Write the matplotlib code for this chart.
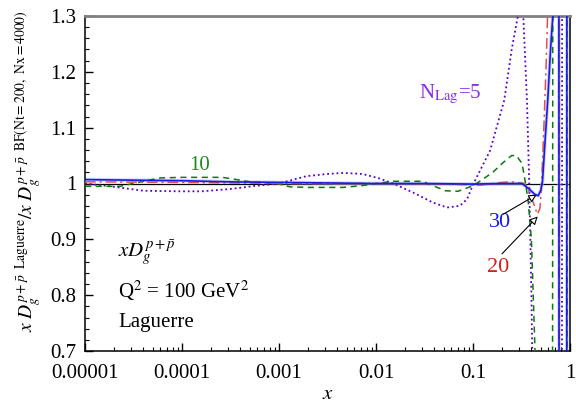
import numpy as np
import matplotlib
matplotlib.use("Agg")
import matplotlib.pyplot as plt
from matplotlib.ticker import FixedLocator, FixedFormatter, MultipleLocator, LogLocator, NullFormatter

plt.rcParams['font.family'] = ['Liberation Serif', 'DejaVu Serif']
plt.rcParams['mathtext.fontset'] = 'stix'

# ---- data ----
x_tick_vals = [1e-5, 1e-4, 1e-3, 1e-2, 1e-1, 1]
x_tick_labels = ["0.00001", "0.0001", "0.001", "0.01", "0.1", "1"]
y_tick_vals = [0.7, 0.8, 0.9, 1.0, 1.1, 1.2, 1.3]
y_tick_labels = ["0.7", "0.8", "0.9", "1", "1.1", "1.2", "1.3"]

# N_Lag = 5 (purple dotted)
x_n5 = [1e-5, 1.8e-5, 4e-5, 9.5e-5, 1.6e-4, 3.1e-4, 5.9e-4, 1e-3, 1.9e-3, 3.1e-3,
        4.6e-3, 7.3e-3, 1.09e-2, 1.5e-2, 2.4e-2, 3.85e-2, 5.4e-2, 7.3e-2, 0.087, 0.1,
        0.15, 0.21, 0.25, 0.29, 0.31, 0.33, 0.36, 0.38, 0.39, 0.40, 0.41, 0.42,
        0.826, 0.83]
y_n5 = [1.000, 0.995, 0.987, 0.986, 0.986, 0.990, 0.996, 1.000, 1.013, 1.017,
        1.019, 1.017, 1.009, 1.000, 0.984, 0.966, 0.957, 0.960, 0.972, 0.998,
        1.059, 1.149, 1.239, 1.30, 1.32, 1.30, 1.149, 1.00, 0.90, 0.80, 0.68, 0.50,
        0.50, 1.45]

# N_Lag = 10 (green dashed)
x_n10 = [1e-5, 2.3e-5, 4e-5, 6e-5, 1e-4, 2.6e-4, 4e-4, 5e-4, 9.5e-4, 1.3e-3,
         2e-3, 4.6e-3, 7e-3, 1.01e-2, 1.5e-2, 3e-2, 4e-2, 5.2e-2, 7e-2, 0.1,
         0.12, 0.16, 0.2, 0.25, 0.28, 0.32, 0.34, 0.37, 0.40, 0.436, 0.45,
         0.66, 0.665, 0.928, 0.932]
y_n10 = [0.995, 0.995, 1.004, 1.010, 1.011, 1.011, 1.006, 1.003, 1.000, 0.994,
         0.993, 0.993, 0.996, 1.000, 1.004, 1.004, 0.995, 0.987, 0.986, 0.996,
         1.005, 1.020, 1.036, 1.050, 1.050, 1.036, 1.011, 0.970, 0.900, 0.700, 0.50,
         0.50, 1.45, 1.45, 0.50]

# N_Lag = 20 (red dash-dot)
x_n20 = [1e-5, 1e-4, 1e-3, 1e-2, 0.05, 0.12, 0.2, 0.25, 0.3, 0.34, 0.38, 0.42,
         0.46, 0.49, 0.51, 0.535, 0.567, 0.585, 0.60, 0.768, 0.772]
y_n20 = [1.003, 1.002, 1.000, 1.000, 0.999, 0.997, 1.002, 1.003, 1.001, 1.000,
         0.985, 0.965, 0.945, 0.955, 1.000, 1.090, 1.210, 1.29, 1.45, 1.45, 0.50]

# N_Lag = 30 (blue solid)
x_n30 = [1e-5, 3e-5, 1e-4, 3e-4, 1e-3, 3e-3, 1e-2, 3e-2, 0.1, 0.2, 0.32, 0.38,
         0.43, 0.47, 0.50, 0.52, 0.56, 0.59, 0.63, 0.665, 0.70, 0.768, 0.772,
         0.926, 0.93]
y_n30 = [1.007, 1.006, 1.005, 1.003, 1.002, 1.001, 1.000, 1.000, 0.999, 1.000,
         1.000, 0.990, 0.981, 0.978, 0.988, 1.003, 1.090, 1.150, 1.240, 1.300,
         1.45, 1.45, 0.50, 0.50, 1.45]

# ---- figure ----
fig = plt.figure(figsize=(5.76, 4.05), dpi=100)
ax = fig.add_axes([85/576, 1-351/405, 485/576, 335/405])
ax.set_xscale('log')
ax.set_xlim(1e-5, 1)
ax.set_ylim(0.7, 1.3)

ax.axhline(1.0, color='black', lw=0.9, zorder=1)

ax.plot(x_n30, y_n30, color='#a8b8f0', lw=2.6, alpha=0.6, zorder=2)
ax.plot(x_n5, y_n5, color='#5a00c8', lw=1.3, ls=(0, (1, 1.6)), zorder=3)
ax.plot(x_n10, y_n10, color='#0a7a0a', lw=1.1, ls=(0, (4, 3)), zorder=3)
ax.plot(x_n20, y_n20, color='#e05050', lw=1.1, ls=(0, (7, 2.5, 1.5, 2.5)), zorder=3)
ax.plot(x_n30, y_n30, color='#1a1ae6', lw=1.2, zorder=4)

# ticks and spines
ax.xaxis.set_major_locator(FixedLocator(x_tick_vals))
ax.xaxis.set_major_formatter(FixedFormatter(x_tick_labels))
ax.xaxis.set_minor_locator(LogLocator(base=10, subs=np.arange(2, 10)))
ax.xaxis.set_minor_formatter(NullFormatter())
ax.yaxis.set_major_locator(FixedLocator(y_tick_vals))
ax.yaxis.set_major_formatter(FixedFormatter(y_tick_labels))
ax.yaxis.set_minor_locator(MultipleLocator(0.02))
ax.tick_params(which='both', direction='in', top=False, right=False, labelsize=15)
ax.tick_params(which='major', length=6, width=1.0)
ax.tick_params(axis='x', which='major', pad=9)
ax.tick_params(axis='y', which='major', pad=6)
ax.tick_params(which='minor', length=3, width=0.8)
for s in ['left', 'bottom', 'right']:
    ax.spines[s].set_color('black')
    ax.spines[s].set_linewidth(1.1)
ax.spines['top'].set_color('#808080')
ax.spines['top'].set_linewidth(2.0)

ax.set_xlabel(r"$x$", fontsize=15, labelpad=2)
fig.text(0.05, 0.578,
         r"$x\ D_g^{p+\bar{p}}\ ^{\mathrm{Laguerre}}/x\ D_g^{p+\bar{p}}\ ^{\mathrm{BF(Nt=200,\ Nx=4000)}}$",
         rotation=90, ha='center', va='center', fontsize=14)

# annotations
ax.text(0.0275, 1.16, r"N$_{\mathrm{Lag}}$=5", color='#8a2be2', fontsize=15,
        ha='left', va='center')
ax.text(1.53e-4, 1.032, "10", color='#1a8a1a', fontsize=15, ha='center', va='center')
ax.text(0.19, 0.930, "30", color='#1a1ae6', fontsize=16, ha='center', va='center')
ax.text(0.18, 0.849, "20", color='#d42020', fontsize=16, ha='center', va='center')
ax.annotate("", xy=(0.455, 0.980), xytext=(0.205, 0.945),
            arrowprops=dict(arrowstyle='-|>', fc='white', ec='black', lw=0.8,
                            mutation_scale=12, shrinkA=0, shrinkB=0))
ax.annotate("", xy=(0.465, 0.941), xytext=(0.199, 0.874),
            arrowprops=dict(arrowstyle='-|>', fc='white', ec='black', lw=0.8,
                            mutation_scale=12, shrinkA=0, shrinkB=0))

ax.text(0.068, 0.293, r"$xD_g^{p+\bar{p}}$", transform=ax.transAxes, fontsize=15,
        ha='left', va='center')
ax.text(0.068, 0.18, r"Q$^2$ = 100 GeV$^2$", transform=ax.transAxes, fontsize=15,
        ha='left', va='center')
ax.text(0.068, 0.084, "Laguerre", transform=ax.transAxes, fontsize=15,
        ha='left', va='center')

fig.savefig("out.png", dpi=100)
